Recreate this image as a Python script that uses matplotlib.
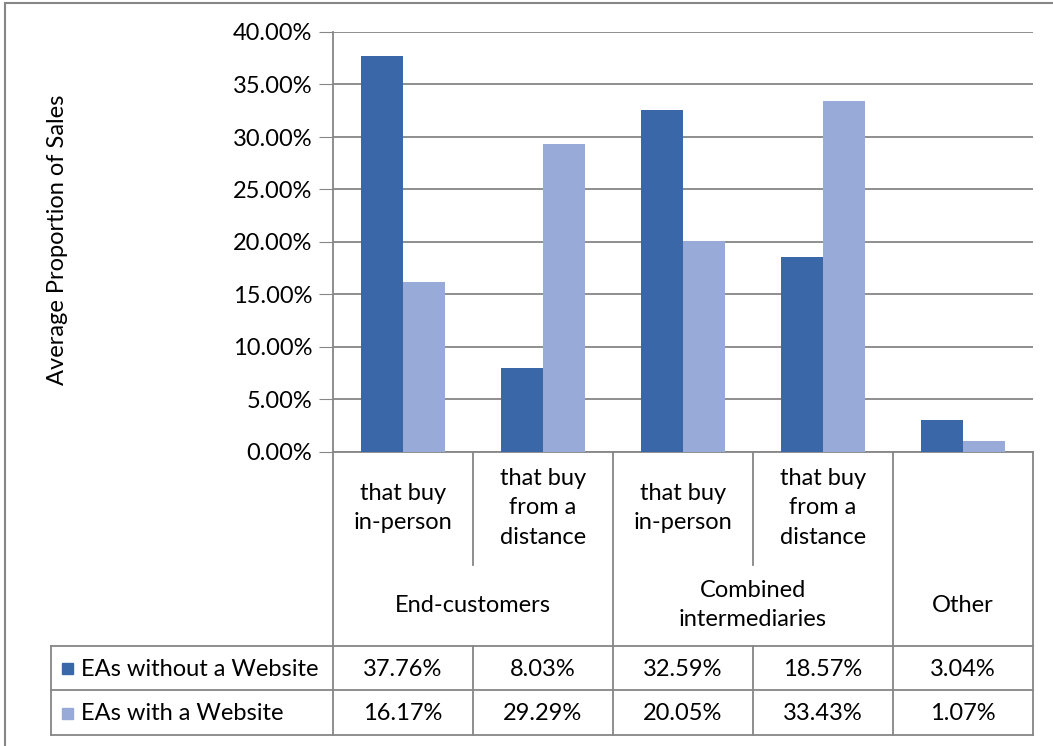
import matplotlib
matplotlib.use("Agg")
import matplotlib.pyplot as plt
from matplotlib.lines import Line2D
from matplotlib.patches import Rectangle
import numpy as np

plt.rcParams['font.family'] = ['Lato', 'DejaVu Sans']

subcats = ["that buy\nin-person", "that buy\nfrom a\ndistance", "that buy\nin-person", "that buy\nfrom a\ndistance", ""]
groups = [("End-customers", 0, 2), ("Combined\nintermediaries", 2, 4), ("Other", 4, 5)]
series_names = ["EAs without a Website", "EAs with a Website"]
without_site = [37.76, 8.03, 32.59, 18.57, 3.04]
with_site = [16.17, 29.29, 20.05, 33.43, 1.07]
yticks = [0, 5, 10, 15, 20, 25, 30, 35, 40]

W, H = 1053, 746
fig = plt.figure(figsize=(W / 100, H / 100), dpi=100)

def fx(px):
    return px / W

def fy(py):
    return 1 - py / H

grid_c = "#868686"
fs = 17
L, R, T, B = 333, 1033, 32, 452
ax = fig.add_axes([fx(L), fy(B), fx(R) - fx(L), fy(T) - fy(B)])
x = np.arange(len(without_site))
bw = 0.3
c_dark = "#3A67A8"
c_light = "#98AAD7"
ax.bar(x - bw / 2, without_site, bw, color=c_dark, zorder=3)
ax.bar(x + bw / 2, with_site, bw, color=c_light, zorder=3)
ax.set_xlim(-0.5, len(x) - 0.5)
ax.set_ylim(0, 40)
ax.set_yticks(yticks)
ax.set_yticklabels([f"{v:.2f}%" for v in yticks], fontsize=fs)
ax.yaxis.grid(True, color=grid_c, lw=1.3, zorder=0)
ax.set_xticks([])
for s in ["top", "right"]:
    ax.spines[s].set_visible(False)
ax.spines["left"].set_color(grid_c)
ax.spines["bottom"].set_color(grid_c)
ax.spines["left"].set_linewidth(1.3)
ax.spines["bottom"].set_linewidth(1.3)
ax.tick_params(axis="y", length=10, color=grid_c, pad=5)
ax.set_ylabel("Average Proportion of Sales", fontsize=fs)
ax.yaxis.set_label_coords((57 - L) / (R - L), (B - 240) / (B - T))
ax.yaxis.label.set_va("center")

# outer border (right/bottom sides lie outside the image)
fig.add_artist(Rectangle((fx(5), fy(800)), fx(1100) - fx(5), fy(3) - fy(800),
                         transform=fig.transFigure, fill=False, ec=grid_c, lw=1.5))

def hline(x0, x1, y):
    fig.add_artist(Line2D([fx(x0), fx(x1)], [fy(y), fy(y)], color=grid_c, lw=1.3))

def vline(xp, y0, y1):
    fig.add_artist(Line2D([fx(xp), fx(xp)], [fy(y0), fy(y1)], color=grid_c, lw=1.3))

colw = (R - L) / len(x)
cols = [L + i * colw for i in range(len(x) + 1)]
row1_b = 565
row2_b = 646
row3_b = 690
row4_b = 735
tab_left = 51

for i, cx in enumerate(cols):
    if i in (1, 3):
        vline(cx, B, row1_b)
    else:
        vline(cx, B, row4_b)
for i, cx in enumerate(cols):
    if i in (1, 3):
        vline(cx, row2_b, row4_b)
vline(tab_left, row2_b, row4_b)
hline(tab_left, R, row2_b)
hline(tab_left, R, row3_b)
hline(tab_left, R, row4_b)

for i, lab in enumerate(subcats):
    if lab:
        fig.text(fx((cols[i] + cols[i + 1]) / 2), fy(508),
                 lab, ha="center", va="center", fontsize=fs, linespacing=1.5)
for name, a, b in groups:
    fig.text(fx((cols[a] + cols[b]) / 2), fy(605), name, ha="center", va="center",
             fontsize=fs, linespacing=1.5)

for r, (name, vals, col) in enumerate([(series_names[0], without_site, c_dark),
                                       (series_names[1], with_site, c_light)]):
    yc = (row2_b + row3_b) / 2 + 1 if r == 0 else (row3_b + row4_b) / 2 + 1
    fig.add_artist(Rectangle((fx(62), fy(yc + 5)), fx(11), fy(0) - fy(11),
                             transform=fig.transFigure, color=col))
    fig.text(fx(81), fy(yc), name, ha="left", va="center", fontsize=fs)
    for i, v in enumerate(vals):
        fig.text(fx((cols[i] + cols[i + 1]) / 2), fy(yc), f"{v:.2f}%",
                 ha="center", va="center", fontsize=fs)

fig.savefig("out.png", dpi=100, facecolor="white")
